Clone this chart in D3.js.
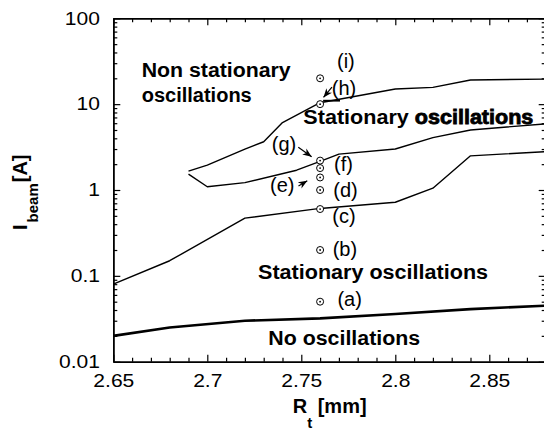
<!DOCTYPE html>
<html>
<head>
<meta charset="utf-8">
<script src="https://cdn.jsdelivr.net/npm/d3@7"></script>
<style>
  body { margin: 0; background: #fff; }
  svg text { font-family: "Liberation Sans", Arial, Helvetica, sans-serif; fill: #000; }
</style>
</head>
<body>
<div id="chart"></div>
<script>
// boundary curves, [Rt (mm), Ibeam (A)]
const upperLine = [[2.69, 1.66], [2.70, 1.95], [2.72, 3.0], [2.73, 3.65], [2.74, 6.1], [2.76, 10.4], [2.80, 15.0], [2.82, 15.7], [2.84, 19.1], [2.88, 19.6]];
const middleLine = [[2.69, 1.53], [2.70, 1.09], [2.72, 1.22], [2.7475, 1.7], [2.76, 2.15], [2.77, 2.62], [2.80, 3.0], [2.82, 4.07], [2.84, 5.0], [2.88, 5.9]];
const lowerLine = [[2.65, 0.08], [2.68, 0.15], [2.72, 0.47], [2.76, 0.61], [2.80, 0.72], [2.82, 1.05], [2.84, 2.5], [2.88, 2.8]];
const noOscLine = [[2.65, 0.02], [2.68, 0.025], [2.72, 0.03], [2.76, 0.032], [2.80, 0.036], [2.84, 0.041], [2.88, 0.045]];

// measured cases (a)..(i)
const caseRt = 2.76;
const caseI = [0.05, 0.2, 0.6, 1.0, 1.4, 1.8, 2.2, 10, 20];

// case labels
const caseNames = ["(i)", "(h)", "(g)", "(f)", "(e)", "(d)", "(c)", "(b)", "(a)"];
const caseLabelX = [2.769, 2.7662, 2.7343, 2.7674, 2.7334, 2.767, 2.7665, 2.7667, 2.7692];
const caseLabelY = [26.7, 12.9, 2.82, 1.67, 0.953, 0.82, 0.413, 0.171, 0.0451];

// arrows from labels to cases
const arrowFrom = [[2.7484, 3.14], [2.7485, 1.11], [2.7663, 15.8]];
const arrowTo = [[2.7555, 2.44], [2.7532, 1.28], [2.7618, 11.96]];

// region names
const regionLines = [["Non stationary"], ["oscillations"], ["Stationary ", "oscillations"], ["Stationary oscillations"], ["No oscillations"]];
const regionX = [2.6651, 2.6651, 2.7511, 2.727, 2.7324];
const regionY = [20.9, 10.7, 5.95, 0.0919, 0.01565];
const regionWidth = [149, 0, 230, 230, 152];

const xMajor = [2.65, 2.7, 2.75, 2.8, 2.85];
const yMajor = [0.01, 0.1, 1, 10, 100];

const W = 544, H = 432;
const svg = d3.select("#chart").append("svg")
    .attr("width", W)
    .attr("height", H);

const x = d3.scaleLinear().domain([2.65, 2.88]).range([113.3, 545.7]);
const y = d3.scaleLog().domain([0.01, 100]).range([361.7, 18.3]);

const xMinor = d3.range(265, 289).map(d => d / 100).filter(d => !xMajor.some(m => Math.abs(m - d) < 1e-9));
const yMinor = [];
[0.01, 0.1, 1, 10].forEach(dec => { for (let k = 2; k <= 9; k++) yMinor.push(dec * k); });

const stretch = 1.17;

function styleAxis(g) {
    g.select(".domain").attr("stroke", "#000").attr("stroke-width", 1.5);
    g.selectAll(".tick line").attr("stroke", "#000").attr("stroke-width", 1.2);
}

// bottom
svg.append("g").attr("transform", `translate(0,${y(0.01)})`)
    .call(d3.axisBottom(x).tickValues(xMinor).tickSize(-4).tickSizeOuter(0).tickFormat(""))
    .call(styleAxis);
const xAxis = svg.append("g").attr("transform", `translate(0,${y(0.01)})`)
    .call(d3.axisBottom(x).tickValues(xMajor).tickSize(-7).tickSizeOuter(0).tickPadding(12.2).tickFormat(d3.format("~g")))
    .call(styleAxis);
xAxis.selectAll("text").attr("font-size", 18).attr("transform", `scale(${stretch},1)`);

// top
svg.append("g").attr("transform", `translate(0,${y(100)})`)
    .call(d3.axisTop(x).tickValues(xMinor).tickSize(-4).tickSizeOuter(0).tickFormat(""))
    .call(styleAxis);
svg.append("g").attr("transform", `translate(0,${y(100)})`)
    .call(d3.axisTop(x).tickValues(xMajor).tickSize(-7).tickSizeOuter(0).tickFormat(""))
    .call(styleAxis);

// left
svg.append("g").attr("transform", `translate(${x(2.65)},0)`)
    .call(d3.axisLeft(y).tickValues(yMinor).tickSize(-4).tickSizeOuter(0).tickFormat(""))
    .call(styleAxis);
const yAxis = svg.append("g").attr("transform", `translate(${x(2.65)},0)`)
    .call(d3.axisLeft(y).tickValues(yMajor).tickSize(-7).tickSizeOuter(0).tickPadding(11.4).tickFormat(d3.format("~g")))
    .call(styleAxis);
yAxis.selectAll("text").attr("font-size", 18).attr("transform", `scale(${stretch},1)`);

// right
svg.append("g").attr("transform", `translate(${x(2.88)},0)`)
    .call(d3.axisRight(y).tickValues(yMinor).tickSize(-4).tickSizeOuter(0).tickFormat(""))
    .call(styleAxis);
svg.append("g").attr("transform", `translate(${x(2.88)},0)`)
    .call(d3.axisRight(y).tickValues(yMajor).tickSize(-7).tickSizeOuter(0).tickFormat(""))
    .call(styleAxis);

// boundary curves
const line = d3.line().x(d => x(d[0])).y(d => y(d[1]));
[upperLine, middleLine, lowerLine].forEach(data => {
    svg.append("path")
        .attr("d", line(data))
        .attr("fill", "none")
        .attr("stroke", "#000")
        .attr("stroke-width", 1.4)
        .attr("stroke-linejoin", "round");
});
svg.append("path")
    .attr("d", line(noOscLine))
    .attr("fill", "none")
    .attr("stroke", "#000")
    .attr("stroke-width", 2.6)
    .attr("stroke-linejoin", "round");

// small bar under (h)
svg.append("line")
    .attr("x1", x(2.7616)).attr("x2", x(2.7706))
    .attr("y1", y(10.97)).attr("y2", y(10.97))
    .attr("stroke", "#000").attr("stroke-width", 1.8);

// case markers
const marks = svg.selectAll(".case")
    .data(caseI)
    .enter()
    .append("g")
    .attr("class", "case")
    .attr("transform", d => `translate(${x(caseRt)},${y(d)})`);
marks.append("circle").attr("r", 3.5).attr("fill", "#fff").attr("stroke", "#000").attr("stroke-width", 1);
marks.append("circle").attr("r", 0.9).attr("fill", "#000");

// case labels
caseNames.forEach((name, i) => {
    svg.append("text")
        .attr("x", x(caseLabelX[i]))
        .attr("y", y(caseLabelY[i]))
        .attr("font-size", 20)
        .text(name);
});

// arrows
svg.append("defs").append("marker")
    .attr("id", "head")
    .attr("markerUnits", "userSpaceOnUse")
    .attr("viewBox", "0 0 10 10")
    .attr("refX", 10).attr("refY", 5)
    .attr("markerWidth", 9).attr("markerHeight", 9)
    .attr("orient", "auto")
    .append("path")
    .attr("d", "M0,1 L10,5 L0,9 L3,5 Z")
    .attr("fill", "#000");

arrowFrom.forEach((f, i) => {
    svg.append("line")
        .attr("x1", x(f[0])).attr("y1", y(f[1]))
        .attr("x2", x(arrowTo[i][0])).attr("y2", y(arrowTo[i][1]))
        .attr("stroke", "#000").attr("stroke-width", 1.2)
        .attr("marker-end", "url(#head)");
});

// region names
regionLines.forEach((parts, i) => {
    const t = svg.append("text")
        .attr("x", x(regionX[i]))
        .attr("y", y(regionY[i]))
        .attr("font-size", 20)
        .attr("font-weight", "bold");
    if (regionWidth[i] > 0) t.attr("textLength", regionWidth[i]).attr("lengthAdjust", "spacingAndGlyphs");
    parts.forEach((p, j) => {
        const s = t.append("tspan").text(p);
        if (i === 2 && j === 1) s.attr("stroke", "#000").attr("stroke-width", 0.8);
    });
});

// axis titles
const xt = svg.append("text")
    .attr("x", 292.7)
    .attr("y", 413.3)
    .attr("font-size", 20)
    .attr("font-weight", "bold");
xt.append("tspan").text("R");
xt.append("tspan").attr("font-size", 15).attr("dy", 15).text("t");
xt.append("tspan").attr("dy", -15).text(" [mm]");

const yt = svg.append("text")
    .attr("transform", "translate(26.7,230) rotate(-90)")
    .attr("font-size", 20)
    .attr("font-weight", "bold");
yt.append("tspan").text("I");
yt.append("tspan").attr("font-size", 15).attr("dx", 2).attr("dy", 11.6).text("beam");
yt.append("tspan").attr("dy", -11.6).attr("dx", 1).text("[A]");
</script>
</body>
</html>
